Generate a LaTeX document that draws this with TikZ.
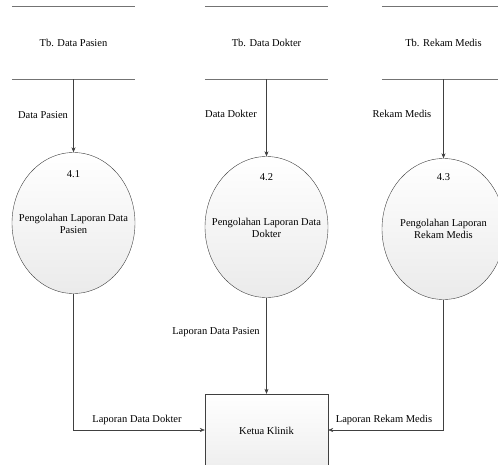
\documentclass[tikz,border=0pt]{standalone}
\usepackage{fontspec}
\setmainfont{Liberation Serif}
\usepackage{tikz}
\usetikzlibrary{arrows.meta,shapes.geometric,positioning}

\begin{document}
\begin{tikzpicture}
[x=1pt,y=-1pt,font=\fontsize{10.5}{12.5}\selectfont,
 proses/.style={ellipse,draw=black!75,top color=white,bottom color=black!8,
    minimum width=123pt,minimum height=141pt,inner sep=0pt},
 prosestext/.style={align=center,inner sep=0pt},
 store/.style={minimum width=123pt,minimum height=72pt,inner sep=0pt},
 storeline/.style={draw=black!55,line width=1.3pt},
 entitas/.style={rectangle,draw=black!75,top color=white,bottom color=black!8,
    minimum width=123pt,minimum height=90pt,inner sep=0pt},
 flow/.style={draw=black!75,-{Stealth[length=5pt,width=4pt]}}]
\useasboundingbox (0,0) rectangle (498,464);
\clip (0,0) rectangle (498,464);

% data store
\node[store] (s1) at (73.5,43) {Tb. Data Pasien};
\node[store] (s2) at (266.5,43) {Tb. Data Dokter};
\node[store] (s3) at (443.5,43) {Tb. Rekam Medis};
\draw[storeline] (s1.north west) -- (s1.north east);
\draw[storeline] (s1.south west) -- (s1.south east);
\draw[storeline] (s2.north west) -- (s2.north east);
\draw[storeline] (s2.south west) -- (s2.south east);
\draw[storeline] (s3.north west) -- (s3.north east);
\draw[storeline] (s3.south west) -- (s3.south east);

% proses
\node[proses] (p1) at (73.5,223) {};
\node[proses] (p2) at (266.5,227) {};
\node[proses] (p3) at (443.5,229) {};
\node[prosestext] (t1) at (73.5,224) {Pengolahan Laporan Data\\Pasien};
\node[prosestext] (t2) at (266.5,228) {Pengolahan Laporan Data\\Dokter};
\node[prosestext] (t3) at (443.5,229) {Pengolahan Laporan\\Rekam Medis};
\node (n1) at (73.5,174) {4.1};
\node (n2) at (266.5,177) {4.2};
\node (n3) at (443.5,177) {4.3};

% entitas
\node[entitas] (kk) at (266.5,439) {};
\node (kkt) at (266.5,431) {Ketua Klinik};
\coordinate (b1) at (73.5,430);
\coordinate (b3) at (443.5,430);

\draw[flow] (s1.south) -- (p1.north);
\draw[flow] (s2.south) -- (p2.north);
\draw[flow] (s3.south) -- (p3.north);
\node (l1) at (43,115) {Data Pasien};
\node (l2) at (231,114) {Data Dokter};
\node (l3) at (402,114) {Rekam Medis};

\draw[flow] (p1.south) -- (b1) -- (kk.west |- b1);
\draw[flow] (p2.south) -- (kk.north);
\draw[flow] (p3.south) -- (b3) -- (kk.east |- b3);
\node (l4) at (137,420) {Laporan Data Dokter};
\node (l5) at (216,332) {Laporan Data Pasien};
\node (l6) at (384,420) {Laporan Rekam Medis};
\end{tikzpicture}
\end{document}
